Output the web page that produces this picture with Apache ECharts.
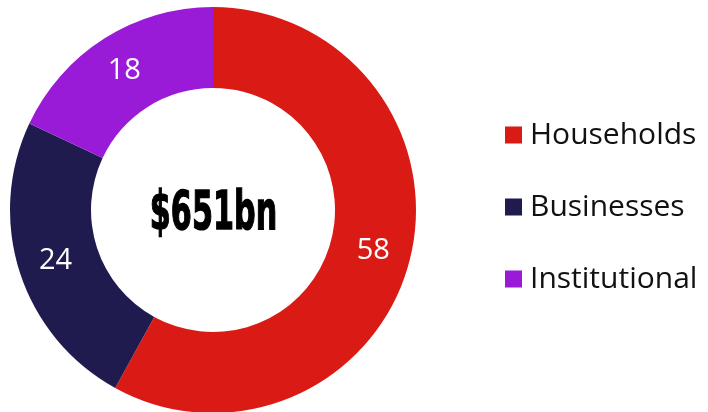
<!DOCTYPE html>
<html>
<head>
<meta charset="utf-8">
<style>
  html, body { margin: 0; padding: 0; background: #fff; }
  #chart { width: 708px; height: 412px; }
</style>
<script src="https://cdn.jsdelivr.net/npm/echarts@6/dist/echarts.min.js"></script>
</head>
<body>
<div id="chart"></div>
<script>
const categories = ["Households", "Businesses", "Institutional"];
const values = [58, 24, 18];
const colors = ["#DA1A14", "#1F1B4E", "#991BD8"];
const totalLabel = "$651bn";

const chart = echarts.init(document.getElementById("chart"));
chart.setOption({
  animation: false,
  color: colors,
  legend: {
    orient: "vertical",
    left: 500,
    top: 115,
    itemWidth: 17,
    itemHeight: 17,
    itemGap: 42,
    icon: "rect",
    textStyle: { fontFamily: "Open Sans", fontSize: 30, lineHeight: 30, color: "#111", padding: [0, 0, 0, 3] },
    data: categories,
  },
  graphic: [{
    type: "text",
    x: 213.5,
    y: 215,
    scaleX: 0.56,
    style: {
      text: totalLabel,
      x: 0,
      y: 0,
      align: "center",
      verticalAlign: "middle",
      font: "bold 54px 'DejaVu Sans', sans-serif",
      fill: "#000",
      stroke: "#000",
      lineWidth: 1.5,
    },
  }],
  series: [{
    type: "pie",
    center: [213, 210],
    radius: [122, 203],
    startAngle: 90,
    clockwise: true,
    avoidLabelOverlap: false,
    label: {
      position: "inside",
      formatter: "{c}",
      color: "#fff",
      fontFamily: "Open Sans",
      fontSize: 29,
    },
    labelLine: { show: false },
    emphasis: { disabled: true },
    data: categories.map((name, i) => ({ name, value: values[i] })),
  }],
});
</script>
</body>
</html>
